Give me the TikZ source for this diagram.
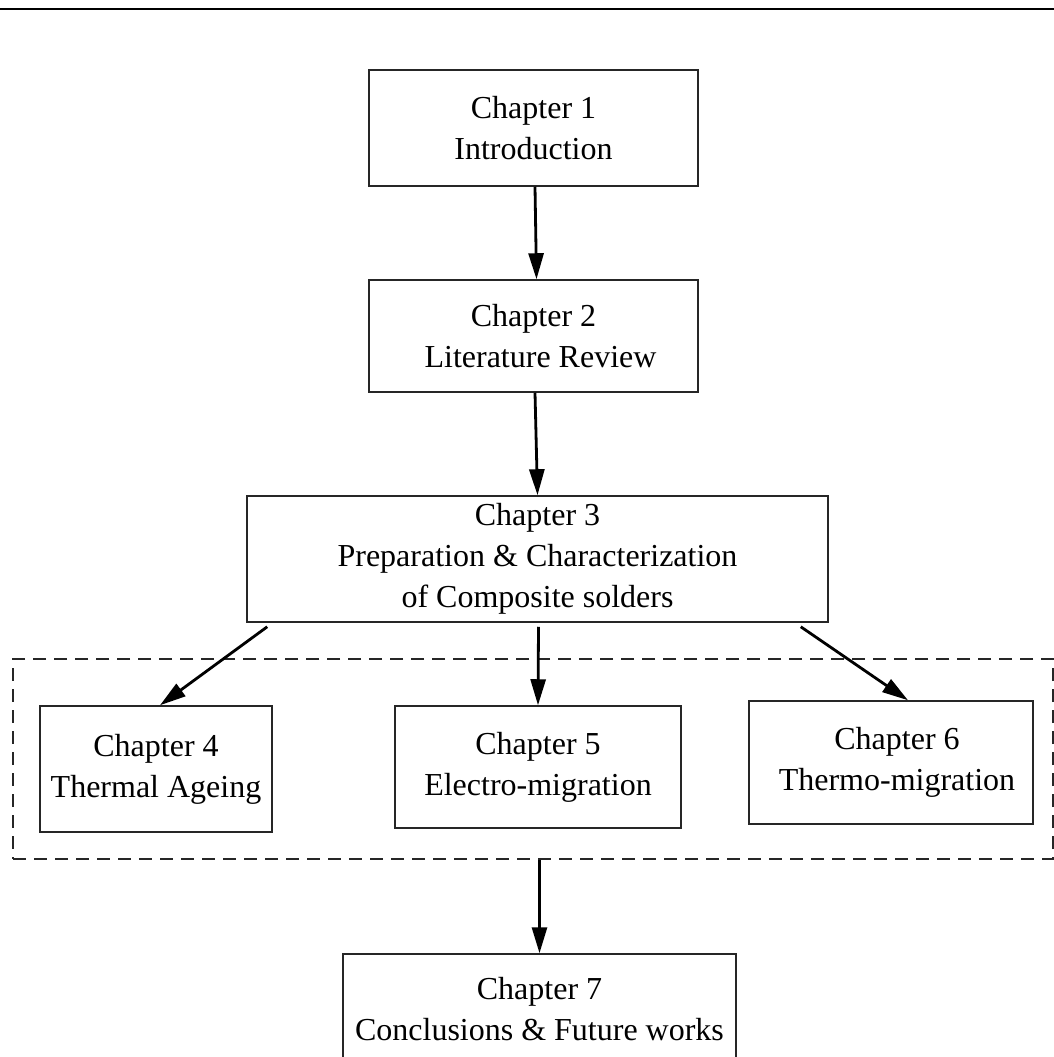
\documentclass[tikz,border=0pt]{standalone}
\usepackage{fontspec}
\setmainfont{Liberation Serif}
\usetikzlibrary{arrows.meta,calc}
\begin{document}
\begin{tikzpicture}[x=1pt,y=-1pt,
  chap/.style={draw=black!85, line width=1.5pt, inner sep=0pt, align=center,
    font=\fontsize{32}{41}\selectfont},
  conn/.style={line width=2.8pt, -{Triangle[length=26pt,width=15pt]}},
  group/.style={draw=black!85, line width=1.5pt, dash pattern=on 13pt off 8pt, inner sep=0pt}]
\useasboundingbox (0,0) rectangle (1054,1057);
\clip (0,0) rectangle (1054,1057);
\fill[white] (0,0) rectangle (1054,1057);
\draw[line width=2.5pt] (0,9) -- (1054,9);

\node[chap, minimum width=329, minimum height=116] (c1) at (533.5,128) {Chapter 1\\Introduction};
\node[chap, minimum width=329, minimum height=112] (c2) at (533.5,336) {Chapter 2\\\hspace*{14pt}Literature Review};
\node[chap, minimum width=581, minimum height=126] (c3) at (537.5,559) {Chapter 3\\Preparation \& Characterization\\of Composite solders};
\node[group, minimum width=1040, minimum height=200] (grp) at (533,759) {};
\node[chap, minimum width=232, minimum height=126] (c4) at (156,769) {Chapter 4\\Thermal Ageing};
\node[chap, minimum width=286, minimum height=122] (c5) at (538,767) {Chapter 5\\Electro-migration};
\node[chap, minimum width=284, minimum height=123] (c6) at (891,762.5) {\hspace*{12pt}Chapter 6\\\hspace*{12pt}Thermo-migration};
\node[chap, minimum width=393, minimum height=110] (c7) at (539.5,1009) {Chapter 7\\Conclusions \& Future works};

\draw[conn] ($(c1.south)+(1.5,0)$) -- ($(c2.north)+(3,0)$);
\draw[conn] ($(c2.south)+(1.5,0)$) -- (c3.north);
\draw[conn] ($(c3.south west)+(21,4)$) -- ($(c4.north)+(4,0)$);
\draw[conn] ($(c3.south)+(1,4)$) -- (c5.north);
\draw[conn] ($(c3.south east)+(-28,4)$) -- ($(c6.north)+(17,0)$);
\draw[conn] (c7.north |- grp.south) -- (c7.north);
\end{tikzpicture}
\end{document}
